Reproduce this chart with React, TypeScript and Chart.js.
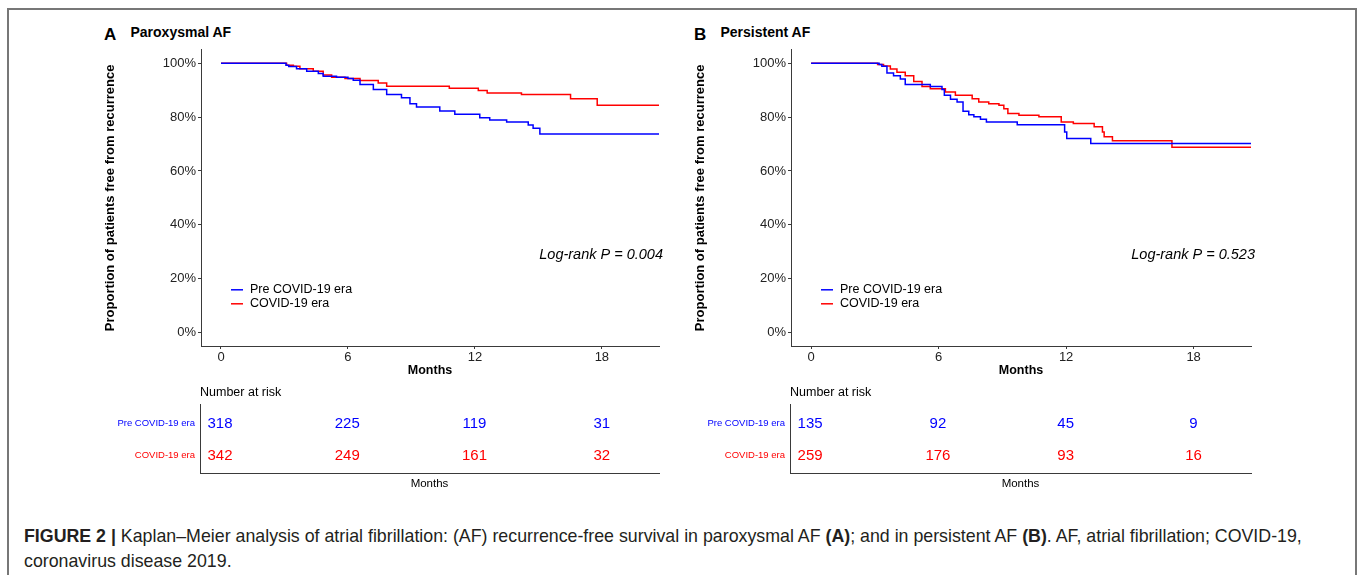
import React, { useEffect, useRef } from "react";
import { Chart, registerables } from "chart.js";

Chart.register(...registerables);

const FONT = "'Liberation Sans', Arial, Helvetica, sans-serif";
Chart.defaults.font.family = FONT;

const BLUE = "#0000FF";
const RED = "#FF0000";
const AXIS = "#3a3a3a";

const groups = ["Pre COVID-19 era", "COVID-19 era"];
const groupColors = [BLUE, RED];
const monthTicks = [0, 6, 12, 18];
const pctTicks = [0, 20, 40, 60, 80, 100];
const X_MIN = -0.945;
const X_MAX = 20.7;

// Panel A – Paroxysmal AF
const parPreTimes = [0, 3.07, 3.2, 3.57, 4.05, 4.6, 4.83, 5.46, 6.0, 6.25, 6.57, 7.2, 7.83, 8.53, 8.93, 9.24, 10.34, 11.05, 12.23, 12.7, 13.5, 14.52, 14.75, 15.07, 20.7];
const parPreSurv = [100, 99.3, 98.8, 98.0, 97.0, 96.2, 95.2, 94.8, 94.3, 93.7, 92.1, 90.3, 88.4, 87.2, 85.0, 83.8, 82.3, 81.1, 79.8, 78.9, 78.2, 77.1, 75.9, 73.7, 73.7];
const parCovTimes = [0, 3.1, 3.42, 3.73, 4.36, 4.83, 5.23, 5.86, 6.57, 7.43, 7.83, 10.79, 12.16, 12.58, 14.2, 16.52, 17.78, 20.7];
const parCovSurv = [100, 99.3, 98.9, 98.0, 97.0, 95.6, 94.8, 94.3, 93.6, 92.7, 91.5, 90.7, 89.9, 89.0, 88.4, 86.8, 84.4, 84.4];
const parRiskPre = [318, 225, 119, 31];
const parRiskCov = [342, 249, 161, 32];
const parLogRank = "Log-rank P = 0.004";

// Panel B – Persistent AF
const perPreTimes = [0, 3.2, 3.33, 3.57, 3.88, 4.2, 4.43, 5.61, 6.16, 6.27, 6.56, 6.87, 7.15, 7.42, 7.66, 7.97, 8.25, 9.7, 11.93, 12.03, 13.16, 20.7];
const perPreSurv = [100, 99.5, 98.9, 96.4, 95.4, 94.2, 92.1, 91.4, 90.3, 88.1, 86.6, 85.6, 82.2, 80.9, 80.1, 79.2, 78.2, 77.2, 74.5, 72.1, 70.2, 70.2];
const perCovTimes = [0, 3.13, 3.41, 3.73, 4.04, 4.43, 4.83, 5.22, 5.61, 6.32, 6.79, 7.58, 7.89, 8.36, 8.84, 9.07, 9.26, 9.78, 10.72, 11.77, 12.34, 13.32, 13.71, 13.79, 14.18, 16.98, 20.7];
const perCovSurv = [100, 99.5, 99.0, 97.9, 96.7, 95.4, 93.2, 91.4, 90.5, 89.3, 88.1, 86.8, 85.6, 85.0, 84.4, 83.1, 81.3, 80.7, 80.1, 78.2, 77.6, 76.4, 74.5, 72.7, 71.2, 68.8, 68.8];
const perRiskPre = [135, 92, 45, 9];
const perRiskCov = [259, 176, 93, 16];
const perLogRank = "Log-rank P = 0.523";

const toXY = (t: number[], s: number[]) => t.map((x, i) => ({ x, y: s[i] }));

const kmOverlay = {
  id: "kmOverlay",
  afterDraw(chart: any, _args: any, opts: any) {
    const { ctx, chartArea } = chart;
    ctx.save();
    chart.data.datasets.forEach((ds: any, i: number) => {
      const y = chartArea.top + 240 + i * 14;
      ctx.strokeStyle = ds.borderColor;
      ctx.lineWidth = 1.5;
      ctx.beginPath();
      ctx.moveTo(chartArea.left + 30, y);
      ctx.lineTo(chartArea.left + 42, y);
      ctx.stroke();
      ctx.fillStyle = "#000";
      ctx.font = `12.5px ${FONT}`;
      ctx.textAlign = "left";
      ctx.textBaseline = "middle";
      ctx.fillText(ds.label, chartArea.left + 49, y);
    });
    ctx.font = `italic 14.5px ${FONT}`;
    ctx.textAlign = "right";
    ctx.textBaseline = "middle";
    ctx.fillStyle = "#000";
    ctx.fillText(opts.text, chartArea.right + 4, chartArea.top + 205.5);
    ctx.restore();
  },
};

const riskOverlay = {
  id: "riskOverlay",
  afterDraw(chart: any, _args: any, opts: any) {
    const { ctx } = chart;
    const xs = chart.scales.x;
    const ys = chart.scales.y;
    ctx.save();
    ctx.font = `15px ${FONT}`;
    ctx.textAlign = "center";
    ctx.textBaseline = "middle";
    opts.rows.forEach((row: number[], r: number) => {
      ctx.fillStyle = groupColors[r];
      row.forEach((n, j) => {
        ctx.fillText(String(n), xs.getPixelForValue(monthTicks[j]), ys.getPixelForValue(r) + 1);
      });
    });
    ctx.restore();
  },
};

function KMChart(props: {
  left: number; top: number; padRight: number;
  preT: number[]; preS: number[]; covT: number[]; covS: number[]; logRank: string;
}) {
  const ref = useRef<HTMLCanvasElement>(null);
  useEffect(() => {
    const chart = new Chart(ref.current as HTMLCanvasElement, {
      type: "line",
      data: {
        datasets: [
          { label: groups[0], data: toXY(props.preT, props.preS), borderColor: BLUE, borderWidth: 1.5, stepped: "before", pointRadius: 0, fill: false },
          { label: groups[1], data: toXY(props.covT, props.covS), borderColor: RED, borderWidth: 1.5, stepped: "before", pointRadius: 0, fill: false },
        ],
      } as any,
      options: {
        animation: false,
        responsive: false,
        maintainAspectRatio: false,
        events: [],
        layout: { padding: { top: 8, right: props.padRight, left: 0, bottom: 0 } },
        plugins: { legend: { display: false }, tooltip: { enabled: false }, kmOverlay: { text: props.logRank } } as any,
        scales: {
          x: {
            type: "linear", min: X_MIN, max: X_MAX,
            afterBuildTicks: (s: any) => { s.ticks = monthTicks.map((v) => ({ value: v })); },
            afterFit: (s: any) => { s.height = 44; },
            ticks: { color: "#222", font: { size: 13 }, padding: 1, maxRotation: 0, autoSkip: false, callback: (v: any) => String(v) },
            grid: { display: true, drawOnChartArea: false, drawTicks: true, tickLength: 3, color: AXIS, lineWidth: 1 },
            border: { display: true, color: AXIS, width: 1 },
            title: { display: true, text: "Months", color: "#000", font: { size: 12.5, weight: "bold" }, padding: { top: 0, bottom: 12 } },
          },
          y: {
            type: "linear", min: -5, max: 105,
            afterBuildTicks: (s: any) => { s.ticks = pctTicks.map((v) => ({ value: v })); },
            afterFit: (s: any) => { s.width = 111; },
            ticks: { color: "#222", font: { size: 13 }, padding: 2, callback: (v: any) => v + "%" },
            grid: { display: true, drawOnChartArea: false, drawTicks: true, tickLength: 3, color: AXIS, lineWidth: 1 },
            border: { display: true, color: AXIS, width: 1 },
            title: { display: true, text: "Proportion of patients free from recurrence", color: "#000", font: { size: 13, weight: "bold" }, padding: { top: 13, bottom: 0 } },
          },
        },
      } as any,
      plugins: [kmOverlay],
    });
    return () => chart.destroy();
  }, []);
  return (
    <canvas ref={ref} width={590} height={350}
      style={{ position: "absolute", left: props.left, top: props.top, width: 590, height: 350 }} />
  );
}

function RiskTable(props: { left: number; top: number; padRight: number; rows: number[][] }) {
  const ref = useRef<HTMLCanvasElement>(null);
  useEffect(() => {
    const chart = new Chart(ref.current as HTMLCanvasElement, {
      type: "line",
      data: { datasets: [] },
      options: {
        animation: false,
        responsive: false,
        maintainAspectRatio: false,
        events: [],
        layout: { padding: { top: 24, right: props.padRight, left: 0, bottom: 0 } },
        plugins: { legend: { display: false }, tooltip: { enabled: false }, riskOverlay: { rows: props.rows } } as any,
        scales: {
          x: {
            type: "linear", min: X_MIN, max: X_MAX,
            afterBuildTicks: (s: any) => { s.ticks = monthTicks.map((v) => ({ value: v })); },
            afterFit: (s: any) => { s.height = 22; },
            ticks: { display: false },
            grid: { display: false, drawTicks: false },
            border: { display: true, color: AXIS, width: 1 },
            title: { display: true, text: "Months", color: "#000", font: { size: 11.5 }, padding: { top: 0, bottom: 4 } },
          },
          y: {
            type: "linear", min: -0.594, max: 1.5625, reverse: true,
            afterBuildTicks: (s: any) => { s.ticks = [0, 1].map((v) => ({ value: v })); },
            afterFit: (s: any) => { s.width = 110; },
            ticks: {
              font: { size: 9.5 }, padding: 5,
              color: (c: any) => groupColors[c.index] || BLUE,
              callback: (v: any) => groups[v],
            },
            grid: { display: false, drawTicks: false },
            border: { display: true, color: AXIS, width: 1 },
          },
        },
      } as any,
      plugins: [riskOverlay],
    });
    return () => chart.destroy();
  }, []);
  return (
    <canvas ref={ref} width={590} height={115}
      style={{ position: "absolute", left: props.left, top: props.top, width: 590, height: 115 }} />
  );
}

const abs = (left: number, top: number, extra: any = {}) => ({
  position: "absolute" as const, left, top, whiteSpace: "nowrap" as const, fontFamily: FONT, color: "#000", ...extra,
});

export default function App() {
  return (
    <div style={{ position: "absolute", left: 0, top: 0, width: 1357, height: 575, overflow: "hidden", background: "#fff", fontFamily: FONT }}>
      <div style={{ position: "absolute", left: 7, top: 8, width: 1350, height: 620, border: "2px solid #777", boxSizing: "border-box" }} />

      <div style={abs(104, 26, { fontSize: 17, fontWeight: "bold", lineHeight: "18px" })}>A</div>
      <div style={abs(130.5, 23.5, { fontSize: 14, fontWeight: "bold", lineHeight: "16px" })}>Paroxysmal AF</div>
      <div style={abs(694, 26, { fontSize: 17, fontWeight: "bold", lineHeight: "18px" })}>B</div>
      <div style={abs(720.5, 23.5, { fontSize: 14, fontWeight: "bold", lineHeight: "16px" })}>Persistent AF</div>

      <KMChart left={90} top={40} padRight={21} preT={parPreTimes} preS={parPreSurv} covT={parCovTimes} covS={parCovSurv} logRank={parLogRank} />
      <KMChart left={680} top={40} padRight={19} preT={perPreTimes} preS={perPreSurv} covT={perCovTimes} covS={perCovSurv} logRank={perLogRank} />

      <div style={abs(200, 385, { fontSize: 12.5, lineHeight: "15px" })}>Number at risk</div>
      <div style={abs(790, 385, { fontSize: 12.5, lineHeight: "15px" })}>Number at risk</div>

      <RiskTable left={90} top={380} padRight={21} rows={[parRiskPre, parRiskCov]} />
      <RiskTable left={680} top={380} padRight={19} rows={[perRiskPre, perRiskCov]} />

      <div style={abs(24, 523.5, { fontSize: 17.8, lineHeight: "25px", color: "#231f20", whiteSpace: "normal", width: 1320 })}>
        <b>FIGURE 2 |</b> Kaplan–Meier analysis of atrial fibrillation: (AF) recurrence-free survival in paroxysmal AF <b>(A)</b>; and in persistent AF <b>(B)</b>. AF, atrial fibrillation; COVID-19,
        <br />coronavirus disease 2019.
      </div>
    </div>
  );
}
